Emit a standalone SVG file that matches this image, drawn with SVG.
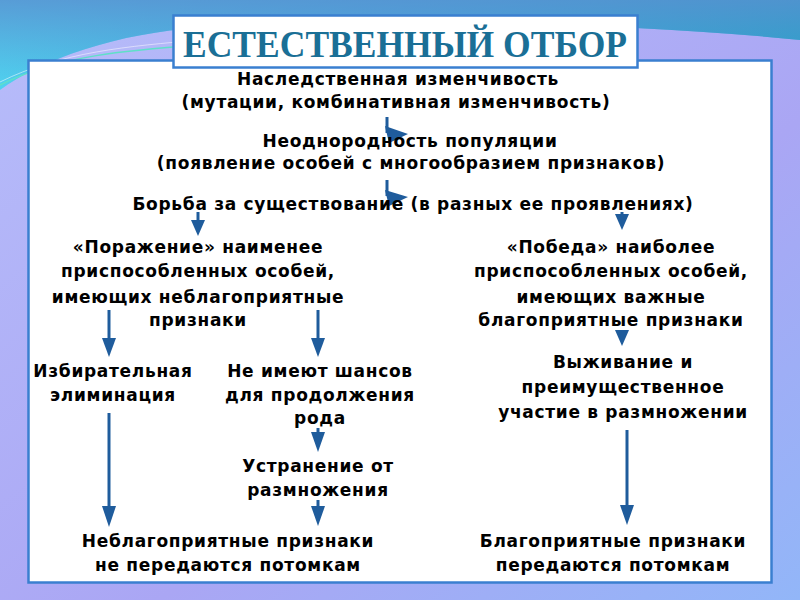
<svg xmlns="http://www.w3.org/2000/svg" width="800" height="600" viewBox="0 0 800 600">
<defs>
<linearGradient id="bg" x1="0" y1="0" x2="1" y2="1">
<stop offset="0" stop-color="#b7bdfa"/>
<stop offset="0.6" stop-color="#aaa6f4"/>
<stop offset="1" stop-color="#92b6f8"/>
</linearGradient>
<linearGradient id="top" x1="0" y1="0" x2="1" y2="0">
<stop offset="0" stop-color="#4fd3f0"/>
<stop offset="0.5" stop-color="#3fb6e2"/>
<stop offset="1" stop-color="#1fa7c8"/>
</linearGradient>
<linearGradient id="topv" x1="0" y1="0" x2="0" y2="1">
<stop offset="0" stop-color="#5a8fd0" stop-opacity="0.8"/>
<stop offset="1" stop-color="#5a8fd0" stop-opacity="0"/>
</linearGradient>
<style>
.t{font-family:"DejaVu Sans",Verdana,sans-serif;font-weight:bold;font-size:17px;letter-spacing:0.7px;fill:#000;text-anchor:middle}
.ln{stroke:#1f5c9c;stroke-width:3;fill:none}
.hd{fill:#1f5c9c}
</style>
</defs>
<rect x="0" y="0" width="800" height="600" fill="url(#bg)"/>
<path d="M0,0 H800 V40 C600,20 400,20 200,28 C120,32 40,60 0,90 Z" fill="url(#top)"/>
<path d="M0,0 H800 V40 C600,20 400,20 200,28 C120,32 40,60 0,90 Z" fill="url(#topv)"/>
<path d="M0,85 C60,55 130,50 200,45 S420,35 560,30" stroke="#5fe0c8" stroke-width="1.5" fill="none"/>
<path d="M0,82 C60,52 130,46 200,40" stroke="#ffffff" stroke-opacity="0.5" stroke-width="1" fill="none"/>
<rect x="28.5" y="60.5" width="743" height="522" fill="#fff" stroke="#3a7fd0" stroke-width="2.5"/>
<g id="title">
<rect x="173.5" y="15.5" width="464" height="52" fill="#fff" stroke="#3a7fd0" stroke-width="2.5"/>
<text x="183" y="57" font-family="'Liberation Serif','Times New Roman',serif" font-weight="bold" font-size="37" fill="#1a6f96" textLength="444" lengthAdjust="spacingAndGlyphs">ЕСТЕСТВЕННЫЙ ОТБОР</text>
</g>
<g id="connectors">
<path class="ln" d="M387,117 V133"/>
<polygon class="hd" points="385,126 389,143 408,134"/>
<path class="ln" d="M387,180 V196"/>
<polygon class="hd" points="385,190 389,206 408,197"/>
<path class="ln" d="M198,212 V224"/>
<polygon class="hd" points="191,220 205,220 198,236"/>
<path class="ln" d="M622,212 V218"/>
<polygon class="hd" points="615,214 629,214 622,230"/>
<path class="ln" d="M109,310 V340"/>
<polygon class="hd" points="102,338 116,338 109,357"/>
<path class="ln" d="M318,310 V340"/>
<polygon class="hd" points="311,338 325,338 318,357"/>
<polygon class="hd" points="615,330 629,330 622,346"/>
<path class="ln" d="M109,413 V510"/>
<polygon class="hd" points="102,506 116,506 109,527"/>
<path class="ln" d="M318,428 V434"/>
<polygon class="hd" points="311,432 325,432 318,452"/>
<path class="ln" d="M318,500 V508"/>
<polygon class="hd" points="311,506 325,506 318,526"/>
<path class="ln" d="M627,430 V508"/>
<polygon class="hd" points="620,505 634,505 627,525"/>
</g>
<g id="n1"><text class="t" x="398" y="85">Наследственная изменчивость</text><text class="t" x="396" y="108">(мутации, комбинативная изменчивость)</text></g>
<g id="n2"><text class="t" x="410" y="147">Неоднородность популяции</text><text class="t" x="411" y="169">(появление особей с многообразием признаков)</text></g>
<g id="n3"><text class="t" x="413" y="210">Борьба за существование (в разных ее проявлениях)</text></g>
<g id="n4"><text class="t" x="198" y="253">«Поражение» наименее</text><text class="t" x="198" y="277">приспособленных особей,</text><text class="t" x="198" y="303">имеющих неблагоприятные</text><text class="t" x="198" y="326">признаки</text></g>
<g id="n5"><text class="t" x="611" y="253">«Победа» наиболее</text><text class="t" x="611" y="277">приспособленных особей,</text><text class="t" x="611" y="303">имеющих важные</text><text class="t" x="611" y="326">благоприятные признаки</text></g>
<g id="n6"><text class="t" x="113" y="377">Избирательная</text><text class="t" x="113" y="401">элиминация</text></g>
<g id="n7"><text class="t" x="320" y="377">Не имеют шансов</text><text class="t" x="320" y="401">для продолжения</text><text class="t" x="320" y="424">рода</text></g>
<g id="n8"><text class="t" x="623" y="368">Выживание и</text><text class="t" x="623" y="393">преимущественное</text><text class="t" x="623" y="418">участие в размножении</text></g>
<g id="n9"><text class="t" x="318" y="472">Устранение от</text><text class="t" x="318" y="496">размножения</text></g>
<g id="n10"><text class="t" x="228" y="547">Неблагоприятные признаки</text><text class="t" x="228" y="571">не передаются потомкам</text></g>
<g id="n11"><text class="t" x="613" y="547">Благоприятные признаки</text><text class="t" x="613" y="571">передаются потомкам</text></g>
</svg>
